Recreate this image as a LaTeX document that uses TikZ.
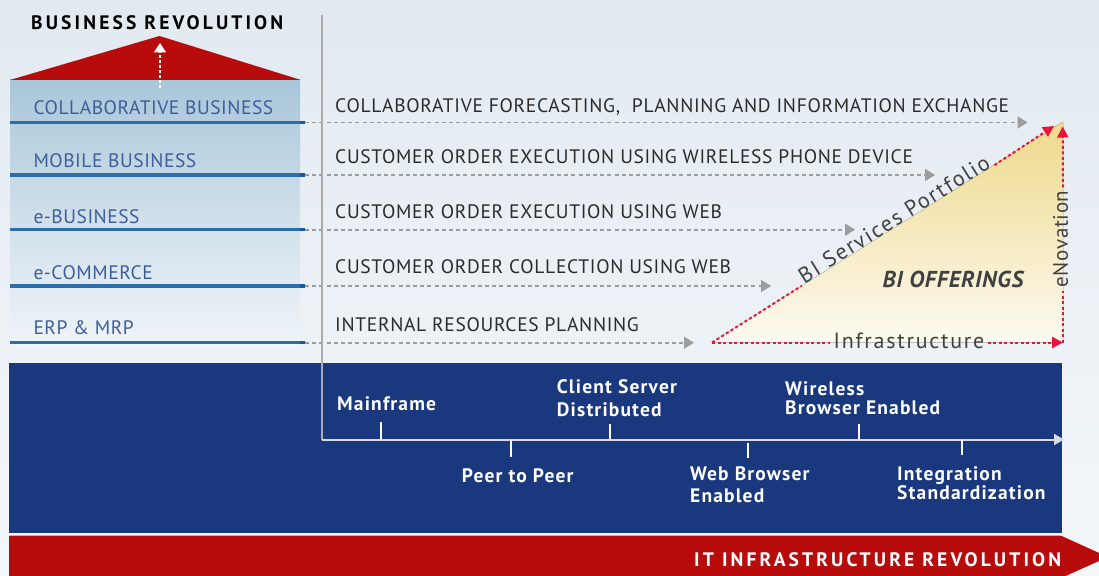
\documentclass[tikz,border=0pt]{standalone}
\usepackage{fontspec}
\setmainfont{PT Sans}
\newfontfamily\lblfont[LetterSpace=3.5]{PT Sans}
\newfontfamily\leftfont[LetterSpace=2.7]{PT Sans}
\newfontfamily\widefont[LetterSpace=16]{PT Sans}
\newfontfamily\axfont[LetterSpace=6]{PT Sans}
\newfontfamily\trifont[LetterSpace=8]{PT Sans}
\newfontfamily\enfont[LetterSpace=3]{PT Sans}
\usetikzlibrary{arrows.meta,calc}
\definecolor{bgtop}{HTML}{E2EAF1}
\definecolor{bgbot}{HTML}{F4F7FA}
\definecolor{roofred}{HTML}{B80C0C}
\definecolor{navy}{HTML}{1A387E}
\definecolor{stacktop}{HTML}{A8C6D9}
\definecolor{stackmid}{HTML}{CFDFEA}
\definecolor{stackbot}{HTML}{EFF4F8}
\definecolor{lineblue}{HTML}{2C6DAC}
\definecolor{lineend}{HTML}{1858A2}
\definecolor{lbltext}{HTML}{3E5E9B}
\definecolor{darktext}{HTML}{2B2B2B}
\definecolor{dashgray}{HTML}{9C9C9C}
\definecolor{axisgray}{HTML}{ABABAB}
\definecolor{axislight}{HTML}{D5DAE3}
\definecolor{dotred}{HTML}{E8163C}
\definecolor{triyel}{HTML}{EFD98A}
\definecolor{tribot}{HTML}{FCFAF2}
\definecolor{tritext}{HTML}{404040}
\begin{document}
\begin{tikzpicture}[x=1pt,y=-1pt,
  txt/.style={inner sep=0pt,anchor=base west},
  lvllabel/.style={txt,text=lbltext,font=\leftfont\fontsize{19.5}{23}\selectfont},
  lvltext/.style={txt,text=darktext,font=\lblfont\fontsize{19.5}{23}\selectfont},
  axlabel/.style={txt,text=white,font=\axfont\bfseries\fontsize{19.5}{23}\selectfont},
  bigbold/.style={txt,font=\widefont\bfseries\fontsize{19.5}{23}\selectfont},
  tritxt/.style={text=tritext,font=\trifont\fontsize{22}{26}\selectfont,inner sep=3pt},
  levelline/.style={lineblue,line width=3.5pt},
  grayarrow/.style={dashgray,line width=1.7pt,dash pattern=on 4pt off 3.2pt,-{Triangle[width=12pt,length=10pt]}},
  reddot/.style={dotred,line width=2pt,dash pattern=on 3pt off 2.5pt},
  redtip/.style={-{Triangle[width=11pt,length=11pt]}},
  tickline/.style={white,line width=2pt},
]
\useasboundingbox (0,0) rectangle (1099,575);
\clip (0,0) rectangle (1099,575);
\fill[top color=bgtop,bottom color=bgbot] (0,0) rectangle (1099,575);

% stack and roof
\fill[top color=stacktop,bottom color=stackbot,middle color=stackmid] (10,80) rectangle (300,346);
\fill[roofred] (10,80) -- (159.5,36) -- (301,80) -- cycle;
\coordinate (upbot) at (160,88);
\coordinate (uptop) at (160,43);
\draw[white,line width=1.4pt,dash pattern=on 3pt off 2pt,-{Triangle[width=12pt,length=9.5pt]}] (upbot) -- (uptop);
\node[bigbold,text=black] (title) at (31,29.3) {BUSINESS REVOLUTION};

% bands
\fill[navy] (9,363) rectangle (1062,533.3);
\fill[roofred] (9,535.7) -- (1061,535.7) -- (1108,557) -- (1061,578) -- (9,578) -- cycle;
\node[bigbold,text=white] (itrev) at (694,566.7) {IT INFRASTRUCTURE REVOLUTION};

% levels
\foreach \i/\y/\lab/\lb/\txt/\tb/\xe in {
  1/122.5/{COLLABORATIVE BUSINESS}/114.3/{COLLABORATIVE FORECASTING,~ PLANNING AND INFORMATION EXCHANGE}/112.7/1027.5,
  2/175/{MOBILE BUSINESS}/167.7/{CUSTOMER ORDER EXECUTION USING WIRELESS PHONE DEVICE}/163.2/935,
  3/229.7/{e-BUSINESS}/223.3/{CUSTOMER ORDER EXECUTION USING WEB}/218.5/855,
  4/286/{e-COMMERCE}/279/{CUSTOMER ORDER COLLECTION USING WEB}/273.5/771,
  5/342.7/{ERP \& MRP}/334/{INTERNAL RESOURCES PLANNING}/331/694}{
  \draw[levelline] (10,\y) -- (301,\y);
  \fill[lineend] (300,\y-1.75) rectangle (305,\y+1.75);
  \node[lvllabel] (lab\i) at (33.3,\lb) {\lab};
  \node[lvltext] (txt\i) at (335,\tb) {\txt};
  \coordinate (s\i) at (305,\y);
  \coordinate (e\i) at (\xe,\y);
  \draw[grayarrow] (s\i) -- (e\i);
}

% axes
\coordinate (vtop) at (322,15);
\coordinate (origin) at (322,439.5);
\coordinate (hend) at (1064,439.5);
\draw[axisgray,line width=2pt] (vtop) -- (origin);
\draw[axislight,line width=2pt,-{Triangle[width=11pt,length=10pt]}] (origin) -- (hend);

% ticks
\draw[tickline] (381,422) -- (381,439);
\draw[tickline] (510.7,440) -- (510.7,457);
\draw[tickline] (610,424) -- (610,439);
\draw[tickline] (747.7,442.5) -- (747.7,458);
\draw[tickline] (859,424) -- (859,439);
\draw[tickline] (962,440) -- (962,455);

% axis labels
\node[axlabel] (mainframe) at (337,410.7) {Mainframe};
\node[axlabel] (cs1) at (556.7,393.3) {Client Server};
\node[axlabel] (cs2) at (556.7,416) {Distributed};
\node[axlabel] (wl1) at (785,395) {Wireless};
\node[axlabel] (wl2) at (785,414) {Browser Enabled};
\node[axlabel] (p2p) at (461.7,482.3) {Peer to Peer};
\node[axlabel] (wb1) at (690,480) {Web Browser};
\node[axlabel] (wb2) at (690,502.7) {Enabled};
\node[axlabel] (int1) at (897,480) {Integration};
\node[axlabel] (int2) at (897,499) {Standardization};

% BI triangle
\coordinate (tA) at (712,342.5);
\coordinate (tB) at (1063,342.5);
\coordinate (tC) at (1063,121.7);
\coordinate (hypend) at (1054,126);
\coordinate (vertend) at (1062.7,126.5);
\fill[top color=triyel,bottom color=tribot] (tA) -- (tB) -- (tC) -- cycle;
\node[tritxt,rotate=32.07,anchor=base] (bisp) at ($(tA)!0.53!(tC)$) {BI Services Portfolio};
\node[tritxt,anchor=base] (infra) at (909,348.3) {Infrastructure};
\node[tritxt,font=\enfont\fontsize{21}{25}\selectfont,rotate=90,anchor=center] (enov) at (1060.5,239) {eNovation};
\node[text=tritext,font=\enfont\fontsize{23}{27}\selectfont\bfseries\itshape,inner sep=0pt] (offer) at (953,279) {BI OFFERINGS};
\draw[reddot] (tA) -- (bisp.base west);
\draw[reddot,redtip] (bisp.base east) -- (hypend);
\draw[reddot] (tA) -- (tA -| infra.west);
\draw[reddot,redtip] (tA -| infra.east) -- (tB);
\draw[reddot] (tB) -- (tB |- enov.west);
\draw[reddot,redtip] (tB |- enov.east) -- (vertend);
\end{tikzpicture}
\end{document}
